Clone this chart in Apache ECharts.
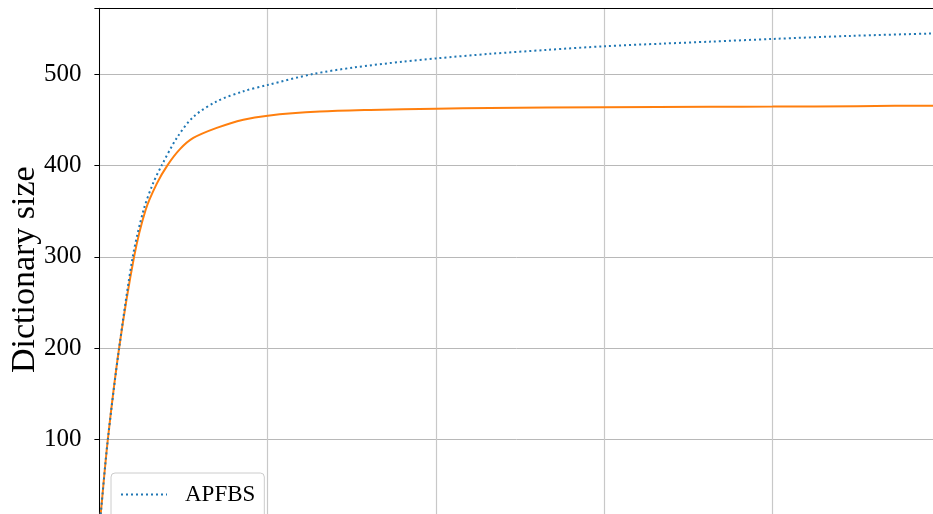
<!DOCTYPE html>
<html>
<head>
<meta charset="utf-8">
<title>Dictionary size</title>
<script src="https://cdn.jsdelivr.net/npm/echarts@6/dist/echarts.min.js"></script>
<style>
  html, body { margin: 0; padding: 0; background: #ffffff; }
  #chart { width: 933px; height: 514px; }
</style>
</head>
<body>
<div id="chart"></div>
<script>
// Dictionary growth curves (x in axis units, y = dictionary size)
const apfbsX = [0, 0.008, 0.05, 0.117, 0.198, 0.262, 0.318, 0.37, 0.46, 0.558, 0.697, 0.855, 1.0, 1.271, 1.508, 1.805, 2.0, 2.32, 2.657, 3.0, 3.35, 3.626, 4.0, 4.458, 4.95, 5.0];
const apfbsY = [2, 19, 100, 200, 300, 351, 380, 400, 430, 453, 470, 481, 488, 500, 507, 513.5, 517, 522, 526.3, 530.3, 533.2, 535.3, 538.3, 541.6, 544.3, 544.6];

const baseX = [0, 0.008, 0.05, 0.117, 0.206, 0.274, 0.341, 0.404, 0.48, 0.558, 0.697, 0.855, 1.0, 1.31, 1.61, 2.0, 2.32, 3.0, 3.63, 4.0, 4.5, 4.95, 5.0];
const baseY = [2, 19, 100, 200, 300, 351, 380, 400, 418, 430, 441, 450, 454.4, 458.8, 460.6, 462, 462.8, 463.6, 464.2, 464.3, 464.8, 465.3, 465.3];

const yTicks = [100, 200, 300, 400, 500];
const legendNames = ['APFBS'];

const pairs = (xs, ys) => xs.map((x, i) => [x, ys[i]]);
const serif = "'Liberation Serif', 'Times New Roman', serif";

const chart = echarts.init(document.getElementById('chart'), null, { renderer: 'canvas' });

chart.setOption({
  backgroundColor: '#ffffff',
  animation: false,
  grid: { left: 99.4, right: -8, top: 8.3, bottom: -17.1, containLabel: false, outerBoundsMode: 'none' },
  xAxis: {
    type: 'value',
    position: 'top',
    min: 0,
    max: 5,
    interval: 1,
    axisLine: { show: true, onZero: false, lineStyle: { color: '#000000', width: 1 } },
    axisTick: { show: false },
    axisLabel: { show: false },
    splitLine: { show: true, lineStyle: { color: '#c8c8c8', width: 1.2 } }
  },
  yAxis: {
    type: 'value',
    min: 0,
    max: 571.8,
    interval: 100,
    name: 'Dictionary size',
    nameLocation: 'middle',
    nameGap: 57,
    nameMoveOverlap: false,
    nameTextStyle: { fontFamily: serif, fontSize: 34, color: '#000000' },
    axisLine: { show: true, lineStyle: { color: '#000000', width: 1 } },
    axisTick: { show: true, length: 5, lineStyle: { color: '#000000', width: 1 } },
    axisLabel: {
      margin: 18,
      fontFamily: serif,
      fontSize: 25,
      color: '#000000',
      formatter: v => (yTicks.indexOf(v) >= 0 ? String(v) : '')
    },
    splitLine: { show: true, lineStyle: { color: '#b8b8b8', width: 1 } }
  },
  legend: {
    data: legendNames,
    left: 111,
    top: 473,
    orient: 'vertical',
    itemWidth: 46,
    itemHeight: 14,
    padding: [10, 9, 40, 9],
    backgroundColor: 'rgba(255,255,255,0.8)',
    borderColor: '#cccccc',
    borderWidth: 1,
    borderRadius: 4,
    itemStyle: { color: 'rgba(0,0,0,0)', borderColor: 'rgba(0,0,0,0)', borderWidth: 0 },
    textStyle: { fontFamily: serif, fontSize: 23, color: '#000000', padding: [0, 0, 0, 13] }
  },
  series: [
    {
      name: 'APFBS',
      type: 'line',
      data: pairs(apfbsX, apfbsY),
      symbol: 'none',
      smooth: 0.3,
      clip: true,
      z: 3,
      lineStyle: { color: '#1f77b4', width: 2, type: [2, 3] },
      itemStyle: { color: '#1f77b4' }
    },
    {
      name: 'baseline',
      type: 'line',
      data: pairs(baseX, baseY),
      symbol: 'none',
      smooth: 0.3,
      clip: true,
      z: 2,
      lineStyle: { color: '#ff7f0e', width: 2 },
      itemStyle: { color: '#ff7f0e' }
    }
  ]
});
</script>
</body>
</html>
